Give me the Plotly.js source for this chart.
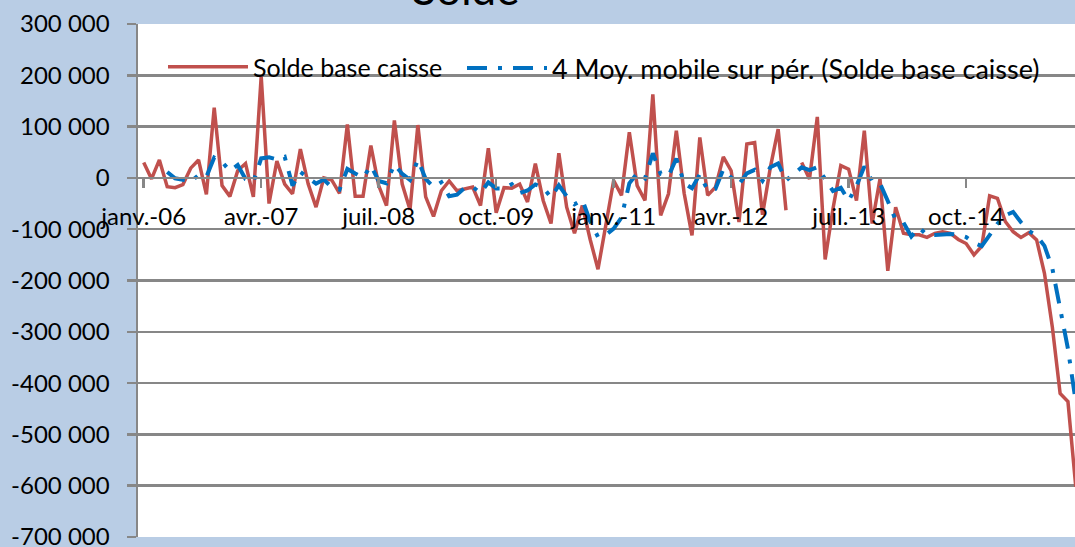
<!DOCTYPE html>
<html>
<head>
<meta charset="utf-8">
<script src="https://cdn.plot.ly/plotly-3.0.1.min.js"></script>
<style>html,body{margin:0;padding:0;background:#B9CDE5;}#chart{width:1075px;height:547px;}</style>
</head>
<body>
<div id="chart"></div>
<script>
// Months janv. 2006 .. déc. 2015 (category index = position on the axis)
const years = [2006,2007,2008,2009,2010,2011,2012,2013,2014,2015];
const monthNames = ['janv.','févr.','mars','avr.','mai','juin','juil.','août','sept.','oct.','nov.','déc.'];
const months = [];
years.forEach(y => monthNames.forEach(m => months.push(m + '-' + String(y).slice(2))));

// Solde base caisse (monthly)
const soldeBaseCaisse = [
  30000,-2000,35000,-17000,-19000,-13000,19000,35000,-32000,137000,
  -15000,-36000,14000,28000,-37000,198000,-50000,33000,-12000,-31000,
  56000,-12000,-57000,0,-4000,-30000,104000,-36000,-36000,63000,
  -15000,-54000,112000,-12000,-62000,103000,-37000,-75000,-25000,-6000,
  -25000,-21000,-18000,-54000,58000,-68000,-19000,-20000,-12000,-47000,
  28000,-44000,-89000,48000,-57000,-108000,-54000,-120000,-178000,-92000,
  -5000,-34000,89000,-15000,-44000,163000,-73000,-31000,92000,-30000,
  -112000,79000,-34000,-18000,41000,14000,-86000,66000,69000,-72000,
  20000,95000,-63000,null,30000,-2000,119000,-159000,-60000,24000,
  17000,-44000,92000,-89000,-2000,-181000,-57000,-108000,-111000,-111000,
  -116000,-108000,-105000,-108000,-120000,-128000,-150000,-133000,-35000,-40000,
  -85000,-105000,-116000,-107000,-121000,-186000,-290000,-420000,-436000,-602000
];

// 4 Moy. mobile sur pér.
const moyMobile4 = [
  null,null,null,11500,-750,-3500,-7500,5500,2250,39750,
  31250,13500,25000,-2250,-7750,38000,40000,36000,41000,-15000,
  11500,250,-11000,-3250,-18250,-22750,17500,8500,500,23750,
  -6000,-10500,26500,7750,-4000,35250,-2000,-17750,-8500,-35750,
  -32750,-19250,-17500,-29500,-8750,-20500,-20750,-12250,-29750,-24500,
  -12750,-18750,-38000,-14250,-35500,-51500,-42750,-84750,-115000,-111000,
  -98750,-77250,-10500,8750,-1000,48000,7750,3750,37750,-10500,
  -20250,7250,-24250,-21250,17000,750,-12250,8750,15750,-5750,
  20750,28000,-5000,null,20500,15000,21000,-3000,-25500,-19000,
  -44500,-15750,22250,-6000,-10750,-45000,-82000,-87000,-114250,-96750,
  -111500,-111500,-110000,-109250,-110250,-115250,-126500,-132750,-111500,-89500,
  -73250,-66250,-86500,-103250,-112250,-132500,-176000,-254000,-333000,-437000
];

const seriesNames = ['Solde base caisse', '4 Moy. mobile sur pér. (Solde base caisse)'];
const xTickLabels = ['janv.-06','avr.-07','juil.-08','oct.-09','janv.-11','avr.-12','juil.-13','oct.-14'];
const yTickValues = [300000,200000,100000,0,-100000,-200000,-300000,-400000,-500000,-600000,-700000];
const yTickLabels = ['300 000','200 000','100 000','0','-100 000','-200 000','-300 000','-400 000','-500 000','-600 000','-700 000'];

const xIdx = months.map((m, i) => i);
const xTickVals = xTickLabels.map(l => months.indexOf(l));

const FONT = 'Lato, "Open Sans", sans-serif';
const GRID = '#878787';

const traces = [
  {
    x: xIdx, y: soldeBaseCaisse, text: months, type: 'scatter', mode: 'lines',
    name: seriesNames[0], connectgaps: false, legend: 'legend',
    line: {color: '#C0504D', width: 3.5}
  },
  {
    x: xIdx, y: moyMobile4, text: months, type: 'scatter', mode: 'lines',
    name: seriesNames[1], connectgaps: true, legend: 'legend2',
    line: {color: '#0070C0', width: 4, dash: '20px,11px,4px,11px'}
  }
];

const legendBase = {
  orientation: 'h', xref: 'paper', yref: 'paper', y: 1 - 20/513,
  xanchor: 'left', yanchor: 'top', bgcolor: 'rgba(0,0,0,0)', itemwidth: 80
};

const layout = {
  width: 1075, height: 547,
  paper_bgcolor: '#B9CDE5', plot_bgcolor: '#FFFFFF',
  margin: {l: 138, r: 0, t: 24, b: 10, pad: 0, autoexpand: false},
  font: {family: FONT, size: 24, color: '#000000'},
  title: {
    text: 'Solde', font: {family: FONT, size: 44, color: '#000000'},
    xref: 'container', x: 466/1075, xanchor: 'center',
    yref: 'container', y: 1 - 5/547, yanchor: 'bottom', automargin: false
  },
  showlegend: true,
  legend: Object.assign({}, legendBase, {
    x: 25/937, font: {family: FONT, size: 25, color: '#000000'}
  }),
  legend2: Object.assign({}, legendBase, {
    x: 324/937, font: {family: FONT, size: 27, color: '#000000'}
  }),
  xaxis: {
    range: [-0.73, 118.9], tickvals: xTickVals, ticktext: xTickLabels,
    anchor: 'free', position: 0.7, showgrid: false, zeroline: false,
    showline: true, linecolor: GRID, linewidth: 2.5,
    ticks: 'outside', ticklen: 9, tickwidth: 2.5, tickcolor: GRID,
    tickfont: {family: FONT, size: 24, color: '#000000'}, ticklabelstandoff: 8
  },
  yaxis: {
    range: [-700000, 300000], tickvals: yTickValues, ticktext: yTickLabels,
    showgrid: true, gridcolor: GRID, gridwidth: 2.5, zeroline: false,
    showline: true, linecolor: GRID, linewidth: 2.5,
    ticks: 'outside', ticklen: 9, tickwidth: 2.5, tickcolor: GRID,
    tickfont: {family: FONT, size: 24, color: '#000000'}, ticklabelstandoff: 12,
    ticklabeloverflow: 'allow'
  }
};

Plotly.newPlot('chart', traces, layout, {displayModeBar: false, staticPlot: true});
</script>
</body>
</html>
